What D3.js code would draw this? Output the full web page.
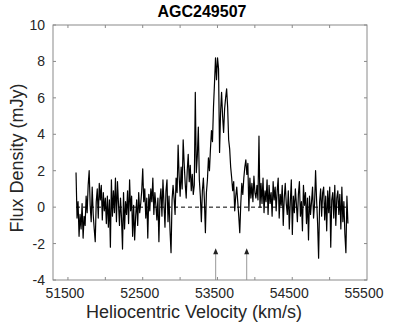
<!DOCTYPE html>
<html lang="en">
<head>
  <meta charset="utf-8">
  <script src="https://d3js.org/d3.v7.min.js"></script>
  <style>
    body { margin: 0; background: #fff; }
    text { font-family: "Liberation Sans", Arial, sans-serif; }
  </style>
</head>
<body>
  <script>
    // spectrum channels: first velocity and channel width (km/s)
    var velStart = 51608;
    var velStep = 13.52;
    // flux density per channel (mJy)
    var flux = [
      1.9, -0.6, 0.3, -1.6, -0.4, -1.2, 0.2, -1.7, -0.5, -1.0,
      0.6, -0.3, 1.2, 2.0, 0.1, -0.8, 1.1, -0.4, -1.2, -1.9,
      0.3, 1.0, -0.6, 1.3, 0.4, 1.2, -0.7, 0.8, -0.2, 0.5,
      -0.9, 0.6, -1.1, 0.4, -2.2, 1.5, -0.5, 0.9, -0.3, 1.6,
      -0.8, 1.4, 0.2, -1.0, 0.5, -0.6, -2.3, 0.8, -1.2, 0.3,
      -0.4, 0.9, -0.9, 1.5, -0.2, 0.6, -1.6, 0.1, -1.8, -0.5,
      0.4, -1.0, 0.8, -0.3, 0.2, 0.9, 2.1, 0.3, 1.0, -0.6,
      0.5, -1.7, 0.7, -0.2, 1.0, 0.3, 1.6, -0.4, 0.8, 0.1,
      -0.7, 0.5, -1.9, 0.4, 1.0, -0.5, 1.5, 0.2, -1.1, 0.9,
      1.5, -0.8, 0.6, -1.3, -2.5, 0.4, 1.2, 0.5, -0.4, 1.6,
      0.8, 3.4, 1.7, 0.6, 2.2, 1.0, 3.7, 2.4, 1.3, 0.5,
      2.0, 2.9, 1.4, 2.3, 0.9, 1.8, 0.7, 1.2, 6.3, 1.9,
      2.8, 4.4, 1.5, 0.6, -0.8, 0.9, 1.6, 0.4, -1.4, 0.8,
      1.5, 2.7, 2.0, 3.2, 4.2, 3.6, 5.5, 6.8, 8.2, 7.0,
      8.2, 7.6, 3.0, 5.2, 6.3, 5.0, 4.1, 5.4, 6.0, 6.5,
      5.5, 3.7, 3.2, 2.2, 1.6, 0.9, 1.4, -0.2, 0.6, 1.1,
      0.3, -0.5, -1.4, 0.2, 1.3, 0.7, 1.6, 2.2, 2.6, 1.8,
      2.4, -0.2, 1.6, 0.5, 1.3, 0.3, 1.7, 0.8, 0.5, 1.2,
      0.4, 3.9, 0.0, 1.3, 0.2, 1.6, -0.3, 0.9, 0.3, 1.5,
      -0.4, 1.2, 0.2, 0.8, -0.5, 1.4, 0.4, 1.1, -0.2, 0.9,
      1.6, -0.6, 0.7, 0.1, 1.2, -1.0, 0.5, 1.3, 0.2, -0.4,
      0.9, -1.2, 0.3, 1.5, -1.5, 0.6, -0.3, 1.0, 0.2, -0.8,
      0.7, 1.4, -0.5, 0.3, -1.3, 1.2, 0.1, 0.8, -0.9, 0.5,
      -1.8, 0.6, -0.4, 0.3, 1.1, -0.6, 0.2, 2.0, 0.4, -0.9,
      -2.8, 0.3, 1.0, -0.5, 0.8, 1.1, -0.7, 0.6, -1.3, 0.9,
      -0.3, 1.1, -2.2, 0.4, 0.8, -0.6, 1.2, -1.0, 0.5, 0.9,
      -0.4, 0.7, -1.2, 1.1, -0.8, 0.3, -1.5, -2.5, 0.6, -0.9
    ];
    var xTickLabels = [51500, 52500, 53500, 54500, 55500];
    var xMinorTicks = [51500, 52000, 52500, 53000, 53500, 54000, 54500, 55000];
    var yTicks = [-4, -2, 0, 2, 4, 6, 8, 10];
    var arrowVel = [53476, 53891];
    var arrowTop = -2.25;

    var width = 407, height = 326;
    var pLeft = 53, pRight = 367, pTop = 25, pBottom = 280;
    var axisGray = "#8a8a8a", labelGray = "#262626";

    var x = d3.scaleLinear().domain([51300, 55500]).range([pLeft, pRight]);
    var y = d3.scaleLinear().domain([-4, 10]).range([pBottom, pTop]);

    var svg = d3.select("body").append("svg")
      .attr("width", width)
      .attr("height", height);

    var spec = flux.map(function(d, i) {
      return { v: velStart + i * velStep, f: d };
    });

    // zero line
    svg.append("line")
      .attr("x1", x(spec[0].v)).attr("x2", x(spec[spec.length - 1].v))
      .attr("y1", y(0)).attr("y2", y(0))
      .attr("stroke", "#000").attr("stroke-width", 1)
      .attr("stroke-dasharray", "4,3");

    // spectrum
    var line = d3.line()
      .x(function(d) { return x(d.v); })
      .y(function(d) { return y(d.f); });
    svg.append("path")
      .datum(spec)
      .attr("d", line)
      .attr("fill", "none")
      .attr("stroke", "#000")
      .attr("stroke-width", 1.2)
      .attr("stroke-linejoin", "round");

    // arrows
    var arr = svg.selectAll("g.arrow").data(arrowVel).enter().append("g").attr("class", "arrow");
    arr.append("line")
      .attr("x1", function(d) { return x(d); }).attr("x2", function(d) { return x(d); })
      .attr("y1", y(-4)).attr("y2", y(arrowTop) + 3)
      .attr("stroke", "#999").attr("stroke-width", 1);
    arr.append("path")
      .attr("d", function(d) {
        var px = x(d), py = y(arrowTop);
        return "M" + px + "," + py + "L" + (px - 2.5) + "," + (py + 6) + "L" + (px + 2.5) + "," + (py + 6) + "Z";
      })
      .attr("fill", "#222");

    // box
    svg.append("rect")
      .attr("x", pLeft).attr("y", pTop)
      .attr("width", pRight - pLeft).attr("height", pBottom - pTop)
      .attr("fill", "none").attr("stroke", axisGray).attr("stroke-width", 1);

    // x ticks (bottom and top, inward)
    xMinorTicks.forEach(function(t) {
      svg.append("line").attr("x1", x(t)).attr("x2", x(t))
        .attr("y1", pBottom).attr("y2", pBottom - 3)
        .attr("stroke", axisGray);
      svg.append("line").attr("x1", x(t)).attr("x2", x(t))
        .attr("y1", pTop).attr("y2", pTop + 3)
        .attr("stroke", axisGray);
    });
    svg.selectAll("text.xt").data(xTickLabels).enter().append("text")
      .attr("class", "xt")
      .attr("x", function(d) { return x(d) - 3; })
      .attr("y", 298)
      .attr("text-anchor", "middle")
      .attr("font-size", "14px")
      .attr("fill", labelGray)
      .text(function(d) { return d; });

    // y ticks (left and right, inward)
    yTicks.forEach(function(t) {
      svg.append("line").attr("x1", pLeft).attr("x2", pLeft + 3)
        .attr("y1", y(t)).attr("y2", y(t)).attr("stroke", axisGray);
      svg.append("line").attr("x1", pRight).attr("x2", pRight - 3)
        .attr("y1", y(t)).attr("y2", y(t)).attr("stroke", axisGray);
    });
    svg.selectAll("text.yt").data(yTicks).enter().append("text")
      .attr("class", "yt")
      .attr("x", 45)
      .attr("y", function(d) { return y(d) + 5; })
      .attr("text-anchor", "end")
      .attr("font-size", "14px")
      .attr("fill", labelGray)
      .text(function(d) { return d; });

    // labels
    svg.append("text")
      .attr("x", 202).attr("y", 17)
      .attr("text-anchor", "middle")
      .attr("font-size", "16px")
      .attr("font-weight", "bold")
      .attr("fill", "#000")
      .text("AGC249507");

    svg.append("text")
      .attr("x", 194).attr("y", 318)
      .attr("text-anchor", "middle")
      .attr("font-size", "18px")
      .attr("fill", labelGray)
      .text("Heliocentric Velocity (km/s)");

    svg.append("text")
      .attr("transform", "translate(23,158) rotate(-90)")
      .attr("text-anchor", "middle")
      .attr("font-size", "18px")
      .attr("fill", labelGray)
      .text("Flux Density (mJy)");
  </script>
</body>
</html>
